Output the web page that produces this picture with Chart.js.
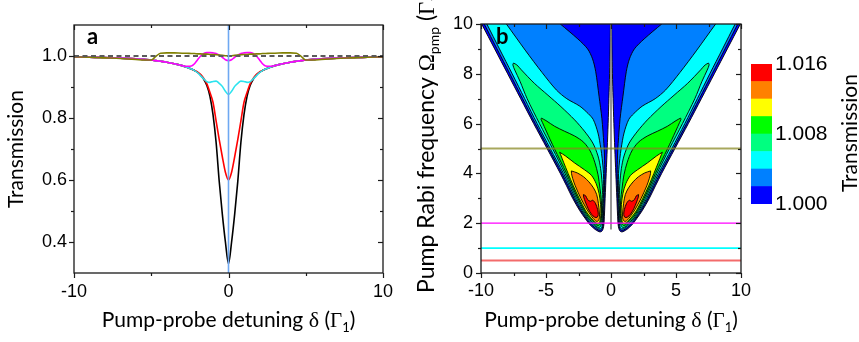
<!DOCTYPE html>
<html>
<head>
<meta charset="utf-8">
<script src="https://cdn.jsdelivr.net/npm/chart.js@4.4.1/dist/chart.umd.min.js"></script>
<style>
  html, body { margin: 0; padding: 0; background: #fff; }
  #wrap { position: relative; width: 859px; height: 342px; overflow: hidden; }
  canvas { position: absolute; top: 0; }
</style>
</head>
<body>
<div id="wrap">
  <canvas id="panelA" width="430" height="342" style="left:0px"></canvas>
  <canvas id="panelB" width="350" height="342" style="left:415px"></canvas>
  <canvas id="colorbar" width="114" height="342" style="left:745px"></canvas>
</div>
<script>
// ---------------- Panel a: probe transmission vs detuning ----------------
const detuning = [-10,-9,-8,-7,-6,-5.5,-5,-4.7,-4.4,-4,-3.5,-3,-2.7,-2.4,-2.2,-2,-1.8,-1.6,-1.4,-1.2,-1,-0.8,-0.6,-0.4,-0.2,
  0,
  0.2,0.4,0.6,0.8,1,1.2,1.4,1.6,1.8,2,2.2,2.4,2.7,3,3.5,4,4.4,4.7,5,5.5,6,7,8,9,10];

// pump Rabi frequency 0 (black)
const transRabi0 = [0.997,0.996,0.995,0.993,0.991,0.989,0.987,0.985,0.983,0.980,0.975,0.969,0.964,0.958,0.953,0.947,0.938,0.925,0.905,0.870,0.810,0.720,0.595,0.490,0.400,
  0.330,
  0.400,0.490,0.595,0.720,0.810,0.870,0.905,0.925,0.938,0.947,0.953,0.958,0.964,0.969,0.975,0.980,0.983,0.985,0.987,0.989,0.991,0.993,0.995,0.996,0.997];
// pump Rabi frequency 0.5 (red)
const transRabi05 = [0.997,0.996,0.995,0.993,0.991,0.989,0.987,0.985,0.983,0.980,0.975,0.969,0.964,0.958,0.953,0.948,0.940,0.928,0.910,0.882,0.850,0.790,0.730,0.675,0.625,
  0.600,
  0.625,0.675,0.730,0.790,0.850,0.882,0.910,0.928,0.940,0.948,0.953,0.958,0.964,0.969,0.975,0.980,0.983,0.985,0.987,0.989,0.991,0.993,0.995,0.996,0.997];
// pump Rabi frequency 1 (cyan)
const transRabi1 = [0.997,0.996,0.995,0.993,0.991,0.989,0.987,0.985,0.983,0.980,0.975,0.969,0.964,0.958,0.953,0.946,0.936,0.926,0.917,0.915,0.918,0.919,0.912,0.902,0.886,
  0.876,
  0.886,0.902,0.912,0.919,0.918,0.915,0.917,0.926,0.936,0.946,0.953,0.958,0.964,0.969,0.975,0.980,0.983,0.985,0.987,0.989,0.991,0.993,0.995,0.996,0.997];
// pump Rabi frequency 2 (magenta)
const transRabi2 = [0.997,0.996,0.995,0.993,0.991,0.989,0.987,0.985,0.983,0.980,0.975,0.969,0.967,0.968,0.975,0.988,1.000,1.008,1.011,1.011,1.010,1.008,1.003,0.996,0.988,
  0.985,
  0.988,0.996,1.003,1.008,1.010,1.011,1.011,1.008,1.000,0.988,0.975,0.968,0.967,0.969,0.975,0.980,0.983,0.985,0.987,0.989,0.991,0.993,0.995,0.996,0.997];
// pump Rabi frequency 5 (olive)
const transRabi5 = [0.997,0.996,0.994,0.992,0.989,0.987,0.987,0.999,1.009,1.010,1.010,1.009,1.009,1.008,1.008,1.007,1.007,1.006,1.006,1.005,1.005,1.004,1.003,1.002,1.001,
  1.000,
  1.001,1.002,1.003,1.004,1.005,1.005,1.006,1.006,1.007,1.007,1.008,1.008,1.009,1.009,1.010,1.010,1.009,0.999,0.987,0.987,0.989,0.992,0.994,0.996,0.997];

const unitTransmission = 1.0;
const panelAXRange = [-10, 10];
const panelAYRange = [0.3, 1.1];
const panelAXTicks = [-10, 0, 10];
const panelAXMinor = [-5, 5];
const panelAYTicks = [0.4, 0.6, 0.8, 1.0];
const panelAYMinor = [0.5, 0.7, 0.9];

// ---------------- Panel b: transmission contour map ----------------
// Band lower bounds; each region encloses transmission >= its level
const contourLevels = [1.000, 1.002, 1.004, 1.006, 1.008, 1.010, 1.012, 1.014];
const colorbarEdges = [1.000, 1.002, 1.004, 1.006, 1.008, 1.010, 1.012, 1.014, 1.016];
const colorbarTicks = [1.000, 1.008, 1.016];

// contour regions, negative-detuning wing: [detuning, pump Rabi frequency]
const wingL0 = [[-10.25,10.3],[-9.95,10],[-8.95,9],[-7.95,8],[-6.95,7],[-5.95,6],[-4.92,5],[-3.9,4],[-3.42,3.5],[-2.95,3],[-2.4,2.5],[-2.0,2.2],[-1.72,2.0],[-1.45,1.85],[-1.22,1.75],[-1.0,1.68],[-0.85,1.65],[-0.72,1.67],[-0.63,1.74],[-0.57,1.86],[-0.53,2.05],[-0.45,3],[-0.37,4],[-0.29,5],[-0.22,6],[-0.16,7],[-0.11,8],[-0.07,9],[-0.04,10],[-0.03,10.3]];
const wingL1 = [[-10.05,10.3],[-9.75,10],[-8.77,9],[-7.78,8],[-6.8,7],[-5.82,6],[-4.8,5],[-3.78,4],[-3.31,3.5],[-2.85,3],[-2.31,2.5],[-1.92,2.2],[-1.64,2.02],[-1.39,1.88],[-1.17,1.79],[-0.98,1.73],[-0.84,1.71],[-0.73,1.73],[-0.66,1.8],[-0.61,1.92],[-0.59,2.1],[-0.53,3],[-0.48,4],[-0.5,4.7],[-0.55,5.2],[-0.7,6.2],[-0.92,7.1],[-1.18,8.1],[-1.42,8.6],[-1.8,9],[-2.55,9.4],[-3.9,10],[-4.6,10.3]];
const wingL2 = [[-9.85,10.3],[-9.55,10],[-8.58,9],[-7.6,8],[-6.64,7],[-5.68,6],[-4.68,5],[-3.66,4],[-3.2,3.5],[-2.75,3],[-2.22,2.5],[-1.84,2.2],[-1.56,2.04],[-1.33,1.92],[-1.12,1.83],[-0.96,1.78],[-0.84,1.77],[-0.75,1.79],[-0.69,1.86],[-0.65,1.97],[-0.64,2.12],[-0.58,3],[-0.58,4],[-0.68,4.6],[-0.78,5],[-1,5.62],[-1.36,6.16],[-1.75,6.4],[-2.4,6.7],[-3.4,7],[-4.2,7.35],[-5.3,8.05],[-6.6,8.95],[-8.05,10],[-8.5,10.3]];
const wingL3 = [[-7.5,8.43],[-7.25,8.36],[-6.9,8.16],[-5.9,7.62],[-4.85,7.14],[-3.85,6.68],[-2.8,6.15],[-2.05,5.7],[-1.4,5.22],[-1.0,4.7],[-0.8,4.2],[-0.68,3.6],[-0.64,3],[-0.66,2.4],[-0.68,2.18],[-0.72,2.02],[-0.78,1.91],[-0.87,1.84],[-0.98,1.83],[-1.1,1.86],[-1.27,1.93],[-1.48,2.06],[-1.76,2.2],[-2.13,2.5],[-2.65,3],[-3.1,3.5],[-3.54,4],[-4.5,5],[-5.5,6],[-6.45,7],[-7.0,7.7],[-7.4,8.15],[-7.55,8.36]];
const wingL4 = [[-5.35,6.22],[-5,6.12],[-4.33,5.89],[-3.56,5.69],[-2.79,5.5],[-2.1,5.25],[-1.6,4.9],[-1.25,4.45],[-1.0,3.95],[-0.85,3.4],[-0.74,2.9],[-0.72,2.4],[-0.74,2.18],[-0.79,2.04],[-0.86,1.95],[-0.96,1.91],[-1.08,1.92],[-1.22,1.98],[-1.42,2.1],[-1.68,2.22],[-2.04,2.5],[-2.55,3],[-3.0,3.5],[-3.42,4],[-4.36,5],[-4.98,5.7],[-5.28,6.05],[-5.38,6.17]];
const wingL5 = [[-3.95,4.85],[-3.5,4.7],[-2.8,4.42],[-2.05,4.15],[-1.5,3.92],[-1.15,3.6],[-0.92,3.2],[-0.8,2.75],[-0.78,2.4],[-0.8,2.2],[-0.85,2.08],[-0.93,2.0],[-1.04,1.98],[-1.17,2.02],[-1.35,2.1],[-1.6,2.25],[-1.95,2.5],[-2.45,3],[-2.9,3.5],[-3.3,4],[-3.65,4.45],[-3.88,4.76]];
const wingL6 = [[-3.05,4.1],[-2.6,4.02],[-2.1,3.86],[-1.7,3.66],[-1.35,3.42],[-1.1,3.15],[-0.97,2.8],[-0.9,2.45],[-0.88,2.28],[-0.91,2.17],[-0.98,2.1],[-1.08,2.07],[-1.2,2.1],[-1.35,2.18],[-1.55,2.32],[-1.85,2.55],[-2.32,3],[-2.75,3.5],[-2.95,3.8],[-3.04,4.0]];
const wingL7 = [[-2.12,3.15],[-1.95,3.1],[-1.8,2.95],[-1.6,2.88],[-1.4,2.92],[-1.2,2.8],[-1.03,2.55],[-0.98,2.35],[-1.06,2.24],[-1.25,2.24],[-1.5,2.36],[-1.75,2.58],[-1.97,2.85],[-2.1,3.05]];

// contour regions, positive-detuning wing
const wingR0 = [[10.25,10.3],[9.95,10],[8.95,9],[7.95,8],[6.95,7],[5.95,6],[4.92,5],[3.9,4],[3.42,3.5],[2.95,3],[2.4,2.5],[2.0,2.2],[1.72,2.0],[1.45,1.85],[1.22,1.75],[1.0,1.68],[0.85,1.65],[0.72,1.67],[0.63,1.74],[0.57,1.86],[0.53,2.05],[0.45,3],[0.37,4],[0.29,5],[0.22,6],[0.16,7],[0.11,8],[0.07,9],[0.04,10],[0.03,10.3]];
const wingR1 = [[10.05,10.3],[9.75,10],[8.77,9],[7.78,8],[6.8,7],[5.82,6],[4.8,5],[3.78,4],[3.31,3.5],[2.85,3],[2.31,2.5],[1.92,2.2],[1.64,2.02],[1.39,1.88],[1.17,1.79],[0.98,1.73],[0.84,1.71],[0.73,1.73],[0.66,1.8],[0.61,1.92],[0.59,2.1],[0.53,3],[0.48,4],[0.5,4.7],[0.55,5.2],[0.7,6.2],[0.92,7.1],[1.18,8.1],[1.42,8.6],[1.8,9],[2.55,9.4],[3.9,10],[4.6,10.3]];
const wingR2 = [[9.85,10.3],[9.55,10],[8.58,9],[7.6,8],[6.64,7],[5.68,6],[4.68,5],[3.66,4],[3.2,3.5],[2.75,3],[2.22,2.5],[1.84,2.2],[1.56,2.04],[1.33,1.92],[1.12,1.83],[0.96,1.78],[0.84,1.77],[0.75,1.79],[0.69,1.86],[0.65,1.97],[0.64,2.12],[0.58,3],[0.58,4],[0.68,4.6],[0.78,5],[1,5.62],[1.36,6.16],[1.75,6.4],[2.4,6.7],[3.4,7],[4.2,7.35],[5.3,8.05],[6.6,8.95],[8.05,10],[8.5,10.3]];
const wingR3 = [[7.5,8.43],[7.25,8.36],[6.9,8.16],[5.9,7.62],[4.85,7.14],[3.85,6.68],[2.8,6.15],[2.05,5.7],[1.4,5.22],[1.0,4.7],[0.8,4.2],[0.68,3.6],[0.64,3],[0.66,2.4],[0.68,2.18],[0.72,2.02],[0.78,1.91],[0.87,1.84],[0.98,1.83],[1.1,1.86],[1.27,1.93],[1.48,2.06],[1.76,2.2],[2.13,2.5],[2.65,3],[3.1,3.5],[3.54,4],[4.5,5],[5.5,6],[6.45,7],[7.0,7.7],[7.4,8.15],[7.55,8.36]];
const wingR4 = [[5.35,6.22],[5,6.12],[4.33,5.89],[3.56,5.69],[2.79,5.5],[2.1,5.25],[1.6,4.9],[1.25,4.45],[1.0,3.95],[0.85,3.4],[0.74,2.9],[0.72,2.4],[0.74,2.18],[0.79,2.04],[0.86,1.95],[0.96,1.91],[1.08,1.92],[1.22,1.98],[1.42,2.1],[1.68,2.22],[2.04,2.5],[2.55,3],[3.0,3.5],[3.42,4],[4.36,5],[4.98,5.7],[5.28,6.05],[5.38,6.17]];
const wingR5 = [[3.95,4.85],[3.5,4.7],[2.8,4.42],[2.05,4.15],[1.5,3.92],[1.15,3.6],[0.92,3.2],[0.8,2.75],[0.78,2.4],[0.8,2.2],[0.85,2.08],[0.93,2.0],[1.04,1.98],[1.17,2.02],[1.35,2.1],[1.6,2.25],[1.95,2.5],[2.45,3],[2.9,3.5],[3.3,4],[3.65,4.45],[3.88,4.76]];
const wingR6 = [[3.05,4.1],[2.6,4.02],[2.1,3.86],[1.7,3.66],[1.35,3.42],[1.1,3.15],[0.97,2.8],[0.9,2.45],[0.88,2.28],[0.91,2.17],[0.98,2.1],[1.08,2.07],[1.2,2.1],[1.35,2.18],[1.55,2.32],[1.85,2.55],[2.32,3],[2.75,3.5],[2.95,3.8],[3.04,4.0]];
const wingR7 = [[2.12,3.15],[1.95,3.1],[1.8,2.95],[1.6,2.88],[1.4,2.92],[1.2,2.8],[1.03,2.55],[0.98,2.35],[1.06,2.24],[1.25,2.24],[1.5,2.36],[1.75,2.58],[1.97,2.85],[2.1,3.05]];

const contourRegions = [
  [wingL0, wingR0], [wingL1, wingR1], [wingL2, wingR2], [wingL3, wingR3],
  [wingL4, wingR4], [wingL5, wingR5], [wingL6, wingR6], [wingL7, wingR7]
];

// narrow dip along zero detuning
const centreDipRabi = [1.75, 10.3];
// pump Rabi frequencies of the cuts shown in panel a
const cutRabi = [0.5, 1, 2, 5];

const panelBXRange = [-10, 10];
const panelBYRange = [0, 10];
const panelBXTicks = [-10, -5, 0, 5, 10];
const panelBXMinor = [-7.5, -2.5, 2.5, 7.5];
const panelBYTicks = [0, 2, 4, 6, 8, 10];
const panelBYMinor = [1, 3, 5, 7, 9];

// ---------------- styles ----------------
const levelColors = ['#0000ff', '#0080ff', '#00ffff', '#00ff80', '#00ff00', '#ffff00', '#ff8000', '#ff0000'];
const cutColors = ['rgba(240,70,70,0.8)', '#00ffff', '#ff00ff', 'rgba(135,135,30,0.72)'];
const cutWidths = [2, 1.6, 1.2, 2.2];
const curveColors = ['#000000', '#ff0000', '#2ce3ee', '#ff00ff', '#808000'];

const SANS = 'Lato, "Open Sans", sans-serif';
const TICK = '"Liberation Sans", Arial, sans-serif';
const SERIF = '"Liberation Serif", "DejaVu Serif", serif';

Chart.defaults.font.family = SANS;
Chart.defaults.color = '#000';

// ---------------- helpers ----------------
function xy(xs, ys) { return xs.map((x, i) => ({ x: x, y: ys[i] })); }
function pairs(list) { return list.map(p => ({ x: p[0], y: p[1] })); }

function drawRuns(ctx, runs, x, y, rot, align) {
  ctx.save();
  ctx.translate(x, y);
  ctx.rotate(rot);
  let total = 0;
  runs.forEach(r => { ctx.font = r.font; r.w = ctx.measureText(r.text).width; total += r.w; });
  let cx = align === 'center' ? -total / 2 : 0;
  ctx.textBaseline = 'alphabetic';
  ctx.textAlign = 'left';
  ctx.fillStyle = '#000';
  runs.forEach(r => { ctx.font = r.font; ctx.fillText(r.text, cx, r.dy || 0); cx += r.w; });
  ctx.restore();
}

function detuningTitle() {
  return [
    { text: 'Pump-probe detuning ', font: '21px ' + SANS },
    { text: 'δ', font: '22px ' + SERIF },
    { text: ' (', font: '21px ' + SANS },
    { text: 'Γ', font: '21px ' + SERIF },
    { text: '1', font: '13px ' + SANS, dy: 5 },
    { text: ')', font: '21px ' + SANS }
  ];
}

// axis frame with outward ticks on left/bottom and inward ticks on top/right
const framePlugin = {
  id: 'frame',
  afterDatasetsDraw(chart, args, o) {
    const ctx = chart.ctx, a = chart.chartArea, sx = chart.scales.x, sy = chart.scales.y;
    ctx.save();
    ctx.strokeStyle = '#1a1a1a';
    ctx.lineWidth = 1.3;
    ctx.strokeRect(a.left, a.top, a.right - a.left, a.bottom - a.top);
    ctx.lineWidth = 1.2;
    const seg = (x1, y1, x2, y2) => { ctx.beginPath(); ctx.moveTo(x1, y1); ctx.lineTo(x2, y2); ctx.stroke(); };
    const xt = o.xMajor.map(v => [v, o.major]).concat(o.xMinor.map(v => [v, o.minor]));
    xt.forEach(([v, len]) => {
      const px = Math.round(sx.getPixelForValue(v)) + 0.5;
      seg(px, a.bottom, px, a.bottom + len);
      seg(px, a.top, px, a.top + len);
    });
    const yt = o.yMajor.map(v => [v, o.major]).concat(o.yMinor.map(v => [v, o.minor]));
    yt.forEach(([v, len]) => {
      const py = Math.round(sy.getPixelForValue(v)) + 0.5;
      seg(a.left - len, py, a.left, py);
      seg(a.right, py, a.right - len, py);
    });
    ctx.restore();
  }
};

// fills each closed contour outline with its band colour, using the line's own path
const regionFillPlugin = {
  id: 'regionFill',
  beforeDatasetDraw(chart, args) {
    const ds = chart.data.datasets[args.index];
    if (!ds.regionColor) return;
    const meta = args.meta, a = chart.chartArea, ctx = chart.ctx;
    const line = meta.dataset;
    ctx.save();
    ctx.beginPath();
    ctx.rect(a.left, a.top, a.right - a.left, a.bottom - a.top);
    ctx.clip();
    ctx.beginPath();
    if (line && typeof line.path === 'function') {
      line.updateControlPoints(a, meta.iScale.axis);
      line.path(ctx);
    } else {
      meta.data.forEach((p, i) => i ? ctx.lineTo(p.x, p.y) : ctx.moveTo(p.x, p.y));
    }
    ctx.closePath();
    ctx.fillStyle = ds.regionColor;
    ctx.fill();
    ctx.restore();
  }
};

function fixedScale(size, key) {
  return function (s) { s[key] = size; };
}

const baseOptions = {
  responsive: false,
  animation: false,
  events: [],
  devicePixelRatio: 1,
  plugins: { legend: { display: false }, tooltip: { enabled: false } },
  elements: { point: { radius: 0 }, line: { capBezierPoints: false } }
};

// ---------------- Panel a chart ----------------
const curveSets = [transRabi0, transRabi05, transRabi1, transRabi2, transRabi5];
const panelADatasets = curveSets.map((ys, i) => ({
  data: xy(detuning, ys),
  showLine: true,
  borderColor: curveColors[i],
  borderWidth: 1.6,
  cubicInterpolationMode: 'monotone',
  order: 20 - i
}));
panelADatasets.push({
  data: [{ x: panelAXRange[0], y: unitTransmission }, { x: panelAXRange[1], y: unitTransmission }],
  showLine: true, borderColor: '#5a5a5a', borderWidth: 2, borderDash: [5, 3.5], order: 5
});
panelADatasets.push({
  data: [{ x: 0, y: panelAYRange[0] }, { x: 0, y: panelAYRange[1] }],
  showLine: true, borderColor: '#6ea8f2', borderWidth: 1.6, order: 4
});

new Chart(document.getElementById('panelA'), {
  type: 'scatter',
  data: { datasets: panelADatasets },
  options: Object.assign({}, baseOptions, {
    layout: { padding: { top: 25, right: 47, left: 0, bottom: 0 } },
    scales: {
      x: {
        type: 'linear', min: panelAXRange[0], max: panelAXRange[1],
        grid: { display: false, drawTicks: false }, border: { display: false },
        afterBuildTicks: s => { s.ticks = panelAXTicks.map(v => ({ value: v })); },
        afterFit: fixedScale(69, 'height'),
        ticks: { font: { family: TICK, size: 18 }, color: '#000', padding: 8, maxRotation: 0, autoSkip: false,
                 callback: v => String(v) }
      },
      y: {
        type: 'linear', min: panelAYRange[0], max: panelAYRange[1],
        grid: { display: false, drawTicks: false }, border: { display: false },
        afterBuildTicks: s => { s.ticks = panelAYTicks.map(v => ({ value: v })); },
        afterFit: fixedScale(74, 'width'),
        ticks: { font: { family: TICK, size: 18 }, color: '#000', padding: 7, callback: v => v.toFixed(1) }
      }
    },
    plugins: Object.assign({}, baseOptions.plugins, {
      frame: { xMajor: panelAXTicks, xMinor: panelAXMinor, yMajor: panelAYTicks, yMinor: panelAYMinor, major: 5, minor: 3 }
    })
  }),
  plugins: [framePlugin, {
    id: 'panelATitles',
    afterDraw(chart) {
      const ctx = chart.ctx, a = chart.chartArea;
      drawRuns(ctx, detuningTitle(), (a.left + a.right) / 2, 327, 0, 'center');
      drawRuns(ctx, [{ text: 'Transmission', font: '21px ' + SANS }], 23, (a.top + a.bottom) / 2, -Math.PI / 2, 'center');
      drawRuns(ctx, [{ text: 'a', font: 'bold 22px ' + SANS }], a.left + 13, a.top + 19, 0, 'left');
    }
  }]
});

// ---------------- Panel b chart ----------------
const panelBDatasets = [];
contourRegions.forEach((wings, k) => {
  wings.forEach(poly => {
    panelBDatasets.push({
      data: pairs(poly.concat([poly[0]])),
      showLine: true,
      regionColor: levelColors[k],
      borderColor: '#000',
      borderWidth: 0.9,
      tension: 0.3,
      order: 100 - k
    });
  });
});
panelBDatasets.push({
  data: [{ x: 0, y: centreDipRabi[0] }, { x: 0, y: centreDipRabi[1] }],
  showLine: true, borderColor: '#7a7a7a', borderWidth: 1.6, order: 10
});
cutRabi.forEach((r, i) => {
  panelBDatasets.push({
    data: [{ x: panelBXRange[0], y: r }, { x: panelBXRange[1], y: r }],
    showLine: true, borderColor: cutColors[i], borderWidth: cutWidths[i], order: 5 - i
  });
});

new Chart(document.getElementById('panelB'), {
  type: 'scatter',
  data: { datasets: panelBDatasets },
  options: Object.assign({}, baseOptions, {
    layout: { padding: { top: 24, right: 24, left: 0, bottom: 0 } },
    scales: {
      x: {
        type: 'linear', min: panelBXRange[0], max: panelBXRange[1],
        grid: { display: false, drawTicks: false }, border: { display: false },
        afterBuildTicks: s => { s.ticks = panelBXTicks.map(v => ({ value: v })); },
        afterFit: fixedScale(69, 'height'),
        ticks: { font: { family: TICK, size: 18 }, color: '#000', padding: 7, maxRotation: 0, autoSkip: false,
                 callback: v => String(v) }
      },
      y: {
        type: 'linear', min: panelBYRange[0], max: panelBYRange[1],
        grid: { display: false, drawTicks: false }, border: { display: false },
        afterBuildTicks: s => { s.ticks = panelBYTicks.map(v => ({ value: v })); },
        afterFit: fixedScale(66, 'width'),
        ticks: { font: { family: TICK, size: 18 }, color: '#000', padding: 8, callback: v => String(v) }
      }
    },
    plugins: Object.assign({}, baseOptions.plugins, {
      frame: { xMajor: panelBXTicks, xMinor: panelBXMinor, yMajor: panelBYTicks, yMinor: panelBYMinor, major: 5, minor: 3 }
    })
  }),
  plugins: [regionFillPlugin, framePlugin, {
    id: 'panelBTitles',
    afterDraw(chart) {
      const ctx = chart.ctx, a = chart.chartArea;
      drawRuns(ctx, detuningTitle(), (a.left + a.right) / 2, 327, 0, 'center');
      drawRuns(ctx, [
        { text: 'Pump Rabi frequency ', font: '23px ' + SANS },
        { text: 'Ω', font: '23px ' + SERIF },
        { text: 'pmp', font: '14px ' + SANS, dy: 5 },
        { text: ' (', font: '23px ' + SANS },
        { text: 'Γ', font: '23px ' + SERIF },
        { text: '1', font: '14px ' + SANS, dy: 5 },
        { text: ')', font: '23px ' + SANS }
      ], 19, 293, -Math.PI / 2, 'left');
      drawRuns(ctx, [{ text: 'b', font: 'bold 22px ' + SANS }], a.left + 15, a.top + 20, 0, 'left');
    }
  }]
});

// ---------------- Colour scale ----------------
new Chart(document.getElementById('colorbar'), {
  type: 'bar',
  data: {
    labels: [''],
    datasets: levelColors.map((c, i) => ({
      data: [[colorbarEdges[i], colorbarEdges[i + 1]]],
      backgroundColor: c,
      borderWidth: 0,
      grouped: false,
      barPercentage: 1,
      categoryPercentage: 1
    }))
  },
  options: Object.assign({}, baseOptions, {
    layout: { padding: { top: 64, right: 0, left: 6, bottom: 138 } },
    scales: {
      x: { display: false },
      y: {
        type: 'linear', position: 'right', min: colorbarEdges[0], max: colorbarEdges[colorbarEdges.length - 1],
        grid: { display: false, drawTicks: false }, border: { display: false },
        afterBuildTicks: s => { s.ticks = colorbarTicks.map(v => ({ value: v })); },
        afterFit: fixedScale(87, 'width'),
        ticks: { font: { family: TICK, size: 21 }, color: '#000', padding: 3, callback: v => v.toFixed(3) }
      }
    }
  }),
  plugins: [{
    id: 'colorbarTitle',
    afterDraw(chart) {
      drawRuns(chart.ctx, [{ text: 'Transmission', font: '21px ' + SANS }], 112, 133, -Math.PI / 2, 'center');
    }
  }]
});
</script>
</body>
</html>
